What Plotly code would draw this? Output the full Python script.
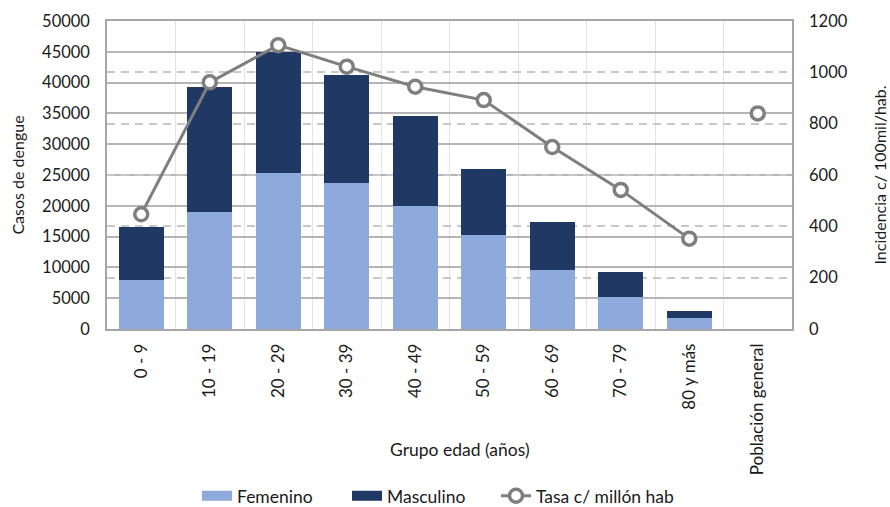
import plotly.graph_objects as go

# Grupos de edad
grupos = ["0 - 9", "10 - 19", "20 - 29", "30 - 39", "40 - 49", "50 - 59",
          "60 - 69", "70 - 79", "80 y más", "Población general"]

# Casos de dengue por sexo (la población general no lleva barras)
femenino = [7900, 19000, 25300, 23700, 19900, 15200, 9500, 5150, 1750, 0]
total = [16500, 39300, 45000, 41200, 34500, 25900, 17300, 9300, 3000, 0]
masculino = [t - f for t, f in zip(total, femenino)]

# Incidencia por grupo y en la población general
tasa_grupos = [447, 961, 1106, 1022, 944, 892, 709, 542, 352]
tasa_general = 840

FONT = "Lato, 'Open Sans', sans-serif"
TXT = "#1a1a1a"
C_FEM = "#8EA9DB"
C_MAS = "#203864"
C_LINE = "#7F7F7F"

fig = go.Figure()

fig.add_trace(go.Bar(
    x=grupos, y=femenino, name="Femenino", legendgroup="fem",
    showlegend=False,
    marker=dict(color=C_FEM, line=dict(width=0)),
    width=0.66,
))
fig.add_trace(go.Bar(
    x=grupos, y=masculino, name="Masculino", legendgroup="mas",
    showlegend=False,
    marker=dict(color=C_MAS, line=dict(width=0)),
    width=0.66,
))
# wide rectangular swatches for the bar series in the legend
fig.add_trace(go.Scatter(
    x=[None], y=[None], name="Femenino", legendgroup="fem",
    mode="lines", line=dict(color=C_FEM, width=10),
))
fig.add_trace(go.Scatter(
    x=[None], y=[None], name="Masculino", legendgroup="mas",
    mode="lines", line=dict(color=C_MAS, width=10),
))
fig.add_trace(go.Scatter(
    x=grupos[:len(tasa_grupos)], y=tasa_grupos, name="Tasa c/ millón hab",
    yaxis="y2", mode="lines+markers", legendgroup="tasa", legend="legend2",
    line=dict(color=C_LINE, width=3),
    marker=dict(symbol="circle", size=13, color="white",
                line=dict(color=C_LINE, width=3.5)),
))
fig.add_trace(go.Scatter(
    x=[grupos[-1]], y=[tasa_general], yaxis="y2", mode="markers",
    showlegend=False, legendgroup="tasa", legend="legend2",
    marker=dict(symbol="circle", size=13, color="white",
                line=dict(color=C_LINE, width=3.5)),
))

legend_common = dict(
    orientation="h", xanchor="left", xref="container",
    yref="container", y=0.022, yanchor="middle",
    font=dict(size=17.5, color=TXT), traceorder="normal",
    bgcolor="rgba(0,0,0,0)",
)

fig.update_layout(
    width=890, height=507,
    margin=dict(l=107, r=98, t=21, b=178, autoexpand=False),
    barmode="stack",
    plot_bgcolor="white", paper_bgcolor="white",
    font=dict(family=FONT, size=16, color=TXT),
    xaxis=dict(
        type="category", tickangle=-90, tickson="boundaries",
        range=[-0.5, len(grupos) - 0.5],
        showgrid=True, gridcolor="#E3E3E3", gridwidth=1,
        ticks="", showline=True, linecolor="#A6A6A6", linewidth=1.5,
        mirror=True, tickfont=dict(size=17, color=TXT),
        automargin=False, ticklabelstandoff=6,
    ),
    yaxis=dict(
        range=[0, 50000], dtick=5000, tickformat="d",
        showgrid=True, gridcolor="#B5B5B5", gridwidth=1.5,
        showline=True, linecolor="#A6A6A6", linewidth=1.5, mirror=True,
        zeroline=False, ticks="", ticklabelstandoff=12,
        tickfont=dict(size=16.5, color=TXT), automargin=False,
        title=dict(text="Casos de dengue", standoff=13,
                   font=dict(size=16, color=TXT)),
    ),
    yaxis2=dict(
        overlaying="y", side="right", range=[0, 1200], dtick=200,
        showgrid=True, gridcolor="#C8C8C8", gridwidth=1.5, griddash="8px,6px",
        zeroline=False, ticks="", showline=False, ticklabelstandoff=16,
        tickfont=dict(size=16.5, color=TXT), automargin=False,
        title=dict(text="Incidencia c/ 100mil/hab.", standoff=28,
                   font=dict(size=16, color=TXT)),
    ),
    legend=dict(legend_common, x=197 / 890,
                entrywidth=105, entrywidthmode="pixels"),
    legend2=dict(legend_common, x=496 / 890),
    annotations=[dict(
        text="Grupo edad (años)", xref="paper", yref="paper",
        x=0.516, y=-0.39, xanchor="center", yanchor="middle",
        showarrow=False, font=dict(size=17.5, color=TXT),
    )],
    bargap=0.34,
)

fig.write_html("out.html")
